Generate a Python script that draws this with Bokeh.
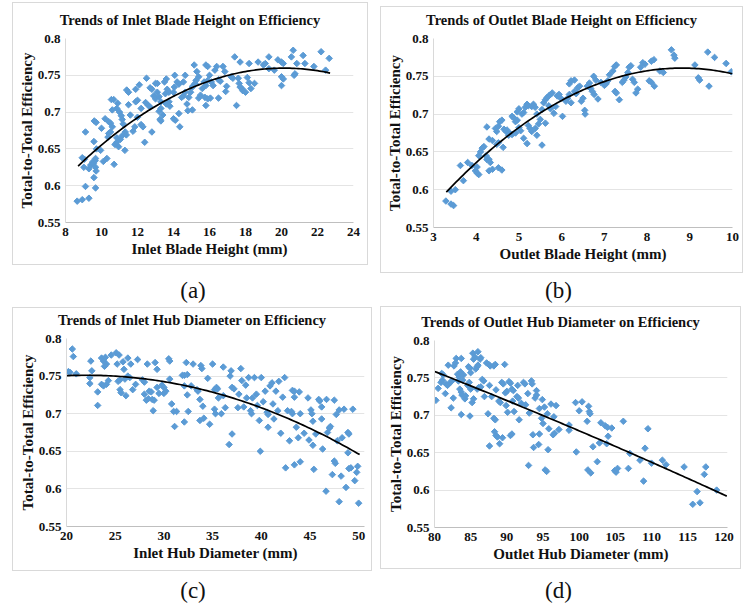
import numpy as np
from bokeh.plotting import figure
from bokeh.models import FixedTicker, NumeralTickFormatter, Div
from bokeh.layouts import column, row
from bokeh.embed import file_html
from bokeh.resources import INLINE

# ---------------- data ----------------
a_x = [8.65, 8.93, 9.30, 9.11, 9.67, 9.58, 8.93, 9.05, 9.11, 9.02, 9.30, 9.40, 9.50, 9.55, 9.65, 9.67, 9.70, 9.67,
       9.58, 9.72, 9.60, 9.70, 10.0, 9.95, 10.1, 10.3, 10.7, 10.2, 10.4, 10.36, 10.5, 10.6, 10.5, 10.4, 10.55, 10.68,
       10.6, 10.85, 10.9, 11.0, 11.1, 10.75, 10.85, 10.95, 10.85, 11.05, 11.15, 11.15, 11.2, 11.3, 11.32, 11.38,
       11.4, 11.5, 11.6, 11.5, 11.9, 12.0, 12.0, 11.85, 11.75, 12.1, 11.9, 12.2, 12.2, 12.3, 12.4, 12.45, 12.6,
       12.7, 12.5, 12.7, 12.8, 12.8, 12.9, 13.0, 13.1, 13.2, 13.3, 13.0, 13.1, 13.2, 13.3, 13.4, 13.3, 13.25, 13.5,
       13.6, 13.55, 13.65, 13.75, 13.6, 13.75, 13.8, 14.0, 14.05, 14.0, 14.1, 14.07, 14.2, 14.3, 14.3, 14.35,
       14.45, 14.55, 14.65, 14.55, 14.65, 14.75, 14.85, 14.95, 15.05, 14.8, 15.05, 15.1, 15.2, 15.25, 15.15, 15.3,
       15.4, 15.4, 15.5, 15.6, 15.7, 15.8, 15.9, 15.75, 15.8, 15.9, 15.8, 15.9, 16.0, 16.1, 16.2, 16.05, 16.3,
       16.4, 16.5, 16.6, 16.5, 16.75, 16.85, 16.95, 16.9, 17.2, 17.3, 17.4, 17.5, 17.6, 17.65, 17.7, 17.8, 17.85,
       18.0, 17.7, 18.1, 18.2, 18.3, 18.2, 18.5, 18.7, 19.0, 19.1, 19.3, 19.3, 19.6, 19.8, 20.0, 20.1, 20.0, 20.1,
       20.0, 20.55, 20.65, 20.7, 20.75, 20.85, 21.2, 21.3, 21.8, 22.2, 22.45, 22.65]
a_y = [0.579, 0.581, 0.583, 0.599, 0.597, 0.611, 0.638, 0.636, 0.673, 0.625, 0.623, 0.628, 0.632, 0.630, 0.634,
       0.625, 0.620, 0.637, 0.660, 0.650, 0.688, 0.686, 0.678, 0.648, 0.633, 0.637, 0.629, 0.691, 0.687, 0.666,
       0.673, 0.680, 0.685, 0.671, 0.717, 0.717, 0.703, 0.705, 0.712, 0.700, 0.695, 0.656, 0.659, 0.653, 0.665,
       0.663, 0.668, 0.690, 0.684, 0.648, 0.673, 0.669, 0.730, 0.727, 0.696, 0.710, 0.714, 0.716, 0.693, 0.680,
       0.674, 0.737, 0.731, 0.705, 0.683, 0.680, 0.659, 0.713, 0.709, 0.707, 0.746, 0.733, 0.731, 0.673, 0.722,
       0.718, 0.727, 0.721, 0.714, 0.739, 0.739, 0.701, 0.705, 0.696, 0.688, 0.690, 0.741, 0.745, 0.725, 0.731,
       0.727, 0.711, 0.714, 0.708, 0.727, 0.734, 0.691, 0.689, 0.750, 0.741, 0.738, 0.698, 0.680, 0.720, 0.722,
       0.727, 0.741, 0.750, 0.711, 0.720, 0.727, 0.734, 0.702, 0.703, 0.736, 0.739, 0.743, 0.764, 0.755, 0.748,
       0.719, 0.723, 0.732, 0.741, 0.736, 0.743, 0.720, 0.709, 0.718, 0.764, 0.762, 0.750, 0.741, 0.736, 0.719,
       0.757, 0.762, 0.744, 0.742, 0.719, 0.762, 0.755, 0.735, 0.728, 0.748, 0.746, 0.775, 0.709, 0.746, 0.739,
       0.734, 0.732, 0.729, 0.727, 0.768, 0.747, 0.740, 0.732, 0.766, 0.739, 0.768, 0.764, 0.766, 0.775, 0.759,
       0.757, 0.771, 0.768, 0.766, 0.748, 0.745, 0.736, 0.775, 0.784, 0.750, 0.752, 0.766, 0.777, 0.766, 0.762,
       0.782, 0.757, 0.773]

b_x = [3.29, 3.41, 3.47, 3.41, 3.51, 3.63, 3.70, 3.80, 3.90, 3.98, 4.02, 4.06, 4.02, 4.06, 4.10, 4.14, 4.18, 4.23,
       4.25, 4.25, 4.30, 4.38, 4.30, 4.33, 4.30, 4.38, 4.45, 4.48, 4.52, 4.48, 4.52, 4.52, 4.60, 4.55, 4.60, 4.63,
       4.65, 4.70, 4.72, 4.76, 4.80, 4.84, 4.88, 4.92, 4.96, 4.84, 4.92, 4.96, 5.00, 5.00, 5.04, 5.07, 5.11, 5.15,
       5.19, 5.22, 5.11, 5.19, 5.22, 5.26, 5.30, 5.34, 5.38, 5.42, 5.30, 5.38, 5.46, 5.50, 5.42, 5.54, 5.58, 5.62,
       5.54, 5.62, 5.66, 5.70, 5.74, 5.78, 5.70, 5.74, 5.82, 5.86, 5.90, 5.94, 5.98, 6.02, 6.10, 6.14, 6.18, 6.22,
       6.18, 6.22, 6.30, 6.34, 6.38, 6.42, 6.30, 6.46, 6.50, 6.54, 6.55, 6.60, 6.65, 6.68, 6.72, 6.76, 6.75, 6.80,
       6.85, 6.92, 7.00, 7.04, 7.08, 7.12, 7.20, 7.24, 7.28, 7.25, 7.28, 7.35, 7.42, 7.46, 7.50, 7.55, 7.58, 7.62,
       7.66, 7.70, 7.74, 7.78, 7.85, 7.90, 7.95, 8.05, 8.10, 8.10, 8.16, 8.17, 8.30, 8.38, 8.57, 8.63, 8.65, 9.12,
       9.20, 9.23, 9.42, 9.45, 9.58, 9.85, 9.97]
b_y = [0.585, 0.581, 0.579, 0.598, 0.600, 0.632, 0.612, 0.636, 0.632, 0.625, 0.622, 0.620, 0.630, 0.645, 0.650,
       0.655, 0.657, 0.645, 0.640, 0.683, 0.667, 0.665, 0.640, 0.636, 0.625, 0.627, 0.681, 0.677, 0.684, 0.660,
       0.662, 0.629, 0.626, 0.690, 0.692, 0.656, 0.680, 0.677, 0.679, 0.672, 0.674, 0.697, 0.695, 0.690, 0.692,
       0.673, 0.675, 0.703, 0.707, 0.682, 0.678, 0.700, 0.702, 0.709, 0.713, 0.711, 0.668, 0.661, 0.685, 0.681,
       0.710, 0.713, 0.709, 0.700, 0.677, 0.681, 0.687, 0.693, 0.672, 0.706, 0.715, 0.719, 0.659, 0.688, 0.722,
       0.724, 0.726, 0.728, 0.711, 0.707, 0.701, 0.710, 0.724, 0.726, 0.721, 0.697, 0.717, 0.721, 0.726, 0.715,
       0.740, 0.744, 0.730, 0.727, 0.735, 0.737, 0.745, 0.717, 0.721, 0.705, 0.700, 0.737, 0.741, 0.734, 0.730,
       0.726, 0.750, 0.745, 0.720, 0.742, 0.738, 0.740, 0.744, 0.752, 0.757, 0.763, 0.765, 0.730, 0.728, 0.719,
       0.742, 0.745, 0.749, 0.755, 0.762, 0.764, 0.746, 0.742, 0.728, 0.733, 0.762, 0.768, 0.766, 0.744, 0.742,
       0.770, 0.772, 0.737, 0.757, 0.755, 0.785, 0.778, 0.774, 0.765, 0.748, 0.745, 0.782, 0.737, 0.775, 0.767,
       0.756]

c_x = [20.2, 20.35, 20.6, 20.7, 21.0, 22.4, 22.5, 22.6, 22.4, 23.2, 23.2, 23.6, 23.8, 23.9, 23.6, 23.8, 24.0, 24.1,
       24.1, 24.3, 24.6, 25.1, 25.2, 25.3, 25.5, 25.4, 25.5, 25.6, 25.8, 25.9, 26.0, 26.1, 26.3, 26.3, 26.5, 26.6,
       26.8, 27.1, 27.3, 27.8, 28.0, 28.0, 28.2, 28.4, 28.3, 28.5, 28.7, 28.8, 29.0, 28.9, 29.1, 29.3, 29.3, 29.5,
       29.8, 30.0, 30.0, 30.2, 30.5, 30.6, 30.6, 30.8, 31.0, 31.1, 31.3, 31.9, 32.1, 32.1, 32.1, 32.3, 32.4, 32.4,
       32.5, 32.8, 33.0, 33.4, 33.5, 33.7, 33.7, 33.8, 33.9, 34.0, 34.1, 34.5, 34.7, 35.0, 35.2, 35.3, 35.2, 35.4,
       35.5, 35.6, 35.9, 36.1, 36.1, 36.3, 36.7, 36.8, 36.9, 37.0, 37.0, 37.2, 37.6, 37.7, 37.9, 38.0, 38.2, 38.4,
       38.5, 38.7, 38.9, 39.0, 39.1, 39.3, 39.5, 39.6, 39.8, 40.0, 40.2, 39.9, 40.4, 40.6, 40.7, 40.7, 40.9, 41.1,
       41.2, 41.3, 41.5, 41.7, 41.8, 42.0, 42.2, 42.4, 42.5, 42.7, 42.9, 43.1, 43.2, 43.2, 43.4, 43.4, 43.4, 43.6,
       43.8, 43.9, 44.0, 44.0, 44.4, 44.8, 44.9, 45.1, 45.2, 45.3, 45.3, 45.4, 45.6, 45.9, 46.0, 46.2, 46.2, 46.3,
       46.65, 46.7, 46.8, 47.0, 47.1, 47.3, 47.5, 47.5, 47.6, 47.7, 48.0, 47.8, 48.0, 48.2, 48.3, 48.5, 48.7, 48.9,
       49.0, 48.9, 49.0, 49.2, 49.4, 49.6, 49.8, 49.9, 50.0]
c_y = [0.756, 0.755, 0.786, 0.776, 0.753, 0.748, 0.770, 0.757, 0.740, 0.729, 0.711, 0.774, 0.770, 0.763, 0.739,
       0.737, 0.775, 0.766, 0.739, 0.744, 0.778, 0.781, 0.766, 0.743, 0.745, 0.778, 0.732, 0.728, 0.769, 0.759,
       0.746, 0.724, 0.774, 0.750, 0.748, 0.766, 0.732, 0.739, 0.772, 0.745, 0.742, 0.726, 0.718, 0.720, 0.766,
       0.730, 0.729, 0.719, 0.718, 0.704, 0.768, 0.759, 0.735, 0.727, 0.738, 0.735, 0.727, 0.730, 0.773, 0.770,
       0.746, 0.713, 0.703, 0.683, 0.703, 0.751, 0.751, 0.737, 0.689, 0.768, 0.752, 0.725, 0.703, 0.737, 0.766,
       0.732, 0.730, 0.719, 0.691, 0.764, 0.760, 0.710, 0.694, 0.747, 0.686, 0.766, 0.706, 0.700, 0.732, 0.735,
       0.733, 0.721, 0.700, 0.762, 0.724, 0.708, 0.659, 0.750, 0.757, 0.673, 0.735, 0.733, 0.708, 0.726, 0.760,
       0.744, 0.709, 0.738, 0.721, 0.748, 0.704, 0.700, 0.721, 0.748, 0.726, 0.711, 0.691, 0.748, 0.716, 0.650,
       0.730, 0.702, 0.699, 0.682, 0.737, 0.741, 0.713, 0.693, 0.730, 0.704, 0.743, 0.674, 0.722, 0.748, 0.628,
       0.704, 0.664, 0.703, 0.700, 0.731, 0.730, 0.722, 0.632, 0.682, 0.668, 0.729, 0.700, 0.636, 0.674, 0.721,
       0.665, 0.705, 0.700, 0.690, 0.658, 0.626, 0.673, 0.719, 0.717, 0.709, 0.693, 0.653, 0.597, 0.719, 0.675,
       0.681, 0.683, 0.619, 0.718, 0.637, 0.634, 0.699, 0.583, 0.664, 0.705, 0.617, 0.668, 0.706, 0.602, 0.675,
       0.673, 0.648, 0.627, 0.628, 0.706, 0.611, 0.622, 0.630, 0.581]

d_x = [80.2, 80.5, 80.9, 81.1, 81.0, 81.2, 81.5, 81.6, 81.8, 81.9, 82.2, 82.4, 82.3, 82.6, 82.7, 82.9, 83.0, 83.2,
       83.4, 83.6, 83.3, 83.5, 83.7, 83.8, 83.7, 83.7, 83.9, 84.0, 84.2, 84.3, 84.6, 84.8, 85.0, 84.7, 84.9, 85.0,
       84.9, 85.2, 85.4, 85.3, 85.4, 85.6, 85.7, 85.9, 86.0, 85.9, 86.1, 86.0, 86.3, 86.4, 86.4, 86.6, 86.8, 86.9,
       87.2, 87.5, 87.7, 87.4, 87.6, 87.6, 87.9, 88.2, 88.4, 88.2, 88.4, 88.3, 88.5, 88.7, 88.5, 88.9, 89.1, 89.0,
       89.3, 89.5, 89.4, 89.7, 89.8, 90.0, 89.9, 90.1, 90.3, 90.5, 90.5, 90.7, 90.7, 90.9, 90.8, 91.0, 91.4, 91.6,
       91.5, 91.7, 92.0, 92.3, 92.5, 92.6, 92.9, 93.0, 93.1, 93.4, 93.5, 93.6, 93.7, 93.9, 94.1, 94.1, 94.4, 94.5,
       94.5, 94.8, 95.0, 94.9, 95.3, 95.5, 95.2, 95.6, 95.7, 95.8, 96.1, 96.4, 96.6, 96.5, 96.8, 97.2, 98.6, 98.6,
       99.5, 99.6, 100.4, 100.0, 101.3, 101.4, 101.5, 101.2, 101.6, 101.1, 101.9, 102.5, 102.8, 103.0, 103.6,
       103.9, 103.8, 104.0, 104.5, 104.9, 105.1, 105.3, 106.1, 106.8, 107.0, 108.4, 108.9, 109.1, 109.5, 110.0,
       111.5, 112.0, 114.5, 115.7, 116.3, 116.7, 117.3, 117.5, 119.0]
d_y = [0.720, 0.736, 0.744, 0.747, 0.756, 0.754, 0.729, 0.742, 0.740, 0.767, 0.744, 0.746, 0.710, 0.723, 0.766,
       0.770, 0.776, 0.755, 0.751, 0.758, 0.746, 0.735, 0.731, 0.727, 0.776, 0.701, 0.747, 0.754, 0.722, 0.726,
       0.740, 0.744, 0.735, 0.765, 0.763, 0.757, 0.699, 0.717, 0.722, 0.783, 0.775, 0.778, 0.762, 0.765, 0.767,
       0.735, 0.737, 0.785, 0.775, 0.777, 0.738, 0.748, 0.746, 0.725, 0.770, 0.768, 0.766, 0.702, 0.740, 0.659,
       0.725, 0.766, 0.768, 0.696, 0.694, 0.678, 0.673, 0.671, 0.734, 0.719, 0.717, 0.662, 0.744, 0.742, 0.670,
       0.768, 0.730, 0.732, 0.713, 0.704, 0.745, 0.743, 0.673, 0.675, 0.735, 0.733, 0.719, 0.705, 0.725, 0.723,
       0.740, 0.694, 0.716, 0.744, 0.742, 0.714, 0.729, 0.633, 0.703, 0.746, 0.742, 0.674, 0.657, 0.723, 0.727,
       0.733, 0.661, 0.675, 0.709, 0.696, 0.689, 0.721, 0.627, 0.625, 0.711, 0.702, 0.654, 0.682, 0.715, 0.674,
       0.676, 0.698, 0.713, 0.681, 0.687, 0.680, 0.717, 0.651, 0.718, 0.706, 0.712, 0.705, 0.702, 0.627, 0.623,
       0.692, 0.658, 0.638, 0.663, 0.690, 0.686, 0.684, 0.662, 0.672, 0.683, 0.626, 0.624, 0.629, 0.692, 0.629,
       0.649, 0.640, 0.612, 0.656, 0.682, 0.636, 0.640, 0.634, 0.631, 0.581, 0.598, 0.583, 0.621, 0.631, 0.600]

titles = ["Trends of Inlet Blade Height on Efficiency",
          "Trends of Outlet Blade Height on Efficiency",
          "Trends of Inlet Hub Diameter on Efficiency",
          "Trends of Outlet Hub Diameter on Efficiency"]
x_labels = ["Inlet Blade Height (mm)", "Outlet Blade Height (mm)",
            "Inlet Hub Diameter (mm)", "Outlet Hub Diameter (mm)"]
y_label = "Total-to-Total Efficiency"
captions = ["(a)", "(b)", "(c)", "(d)"]
a_ticks = [8, 10, 12, 14, 16, 18, 20, 22, 24]
b_ticks = [3, 4, 5, 6, 7, 8, 9, 10]
c_ticks = [20, 25, 30, 35, 40, 45, 50]
d_ticks = [80, 85, 90, 95, 100, 105, 110, 115, 120]
y_ticks = [0.55, 0.6, 0.65, 0.7, 0.75, 0.8]
# x extent covered by each polynomial trend line
a_trend_span = [8.7, 22.7]
b_trend_span = [3.3, 10.0]
c_trend_span = [20.0, 50.1]
d_trend_span = [80.0, 120.4]

FONT = "'Times New Roman', 'Liberation Serif', serif"
CSS_FONT = "'Times New Roman','Liberation Serif',serif"
BLUE = "#5B9BD5"


def panel(title, xlabel, xs, ys, xr, xticks, span, w, h, mb, tpad):
    left, right, top, bottom = mb
    head = top - 10
    tdiv = Div(text=f'<div style="width:{w}px;text-align:center;font-family:{CSS_FONT};font-weight:bold;'
                    f'font-size:14.5px;line-height:17px;padding-top:{tpad}px;color:#111">{title}</div>',
               width=w, height=head, margin=0)
    p = figure(width=w, height=h - head, x_range=xr, y_range=(0.55, 0.8),
               output_backend="svg", toolbar_location=None,
               min_border_left=left, min_border_right=right,
               min_border_top=10, min_border_bottom=bottom, margin=0)
    p.outline_line_color = None
    p.background_fill_color = "white"
    p.border_fill_color = "white"
    p.xgrid.grid_line_color = None
    p.ygrid.grid_line_color = "#e4e4e4"
    p.xaxis.ticker = FixedTicker(ticks=xticks)
    p.yaxis.ticker = FixedTicker(ticks=y_ticks)
    p.yaxis.formatter = NumeralTickFormatter(format="0.[00]")
    p.xaxis.axis_label = xlabel
    p.yaxis.axis_label = y_label
    for ax in (p.xaxis[0], p.yaxis[0]):
        ax.major_tick_line_color = None
        ax.minor_tick_line_color = None
        ax.major_tick_out = 0
        ax.major_tick_in = 0
        ax.minor_tick_out = 0
        ax.major_label_text_font = FONT
        ax.major_label_text_font_size = "13px"
        ax.major_label_text_font_style = "bold"
        ax.major_label_text_color = "#111111"
        ax.axis_label_text_font = FONT
        ax.axis_label_text_font_size = "15px"
        ax.axis_label_text_font_style = "bold"
        ax.axis_label_text_color = "#111111"
        ax.major_label_standoff = 5
    p.xaxis.axis_line_color = "#bfbfbf"
    p.yaxis.axis_line_color = "#d9d9d9"
    p.xaxis.axis_label_standoff = 2
    p.yaxis.axis_label_standoff = 0

    p.scatter(xs, ys, marker="square", angle=np.pi / 4, size=4.6,
              fill_color=BLUE, line_color=BLUE)
    coeffs = np.polyfit(xs, ys, 2)
    xx = np.linspace(span[0], span[1], 120)
    p.line(xx, np.polyval(coeffs, xx), line_color="black", line_width=1.7)
    return column(tdiv, p, styles={"border": "1px solid #d9d9d9", "background": "white"})


pa = panel(titles[0], x_labels[0], a_x, a_y, (8, 24), a_ticks, a_trend_span, 354, 261, (52, 14, 35, 42), 9)
pb = panel(titles[1], x_labels[1], b_x, b_y, (3, 10), b_ticks, b_trend_span, 361, 265, (52, 10, 31, 45), 5)
pc = panel(titles[2], x_labels[2], c_x, c_y, (20, 50.6), c_ticks, c_trend_span, 358, 262, (53, 7, 30, 44), 4)
pd = panel(titles[3], x_labels[3], d_x, d_y, (80, 120.5), d_ticks, d_trend_span, 359, 261, (53, 13, 33, 41), 7)

pa.margin = (2, 0, 0, 12)
pb.margin = (6, 0, 0, 12)
pc.margin = (1, 0, 0, 12)
pd.margin = (0, 0, 0, 8)


def cap(text, w, h, pad):
    return Div(text=f'<div style="width:{w}px;text-align:center;font-family:{CSS_FONT};'
                    f'font-size:23px;line-height:23px;padding-top:{pad}px;color:#111">{text}</div>',
               width=w, height=h, margin=0)


ca = cap(captions[0], 362, 33, 6)
cb = cap(captions[1], 361, 33, 6)
ca.margin = (0, 0, 0, 12)
cb.margin = (0, 0, 0, 4)
cc = cap(captions[2], 362, 32, 8)
cd = cap(captions[3], 361, 32, 8)
cc.margin = (0, 0, 0, 12)
cd.margin = (0, 0, 0, 4)

layout = column(row(pa, pb), row(ca, cb), row(pc, pd), row(cc, cd))

open("out.html", "w").write(file_html(layout, INLINE))
